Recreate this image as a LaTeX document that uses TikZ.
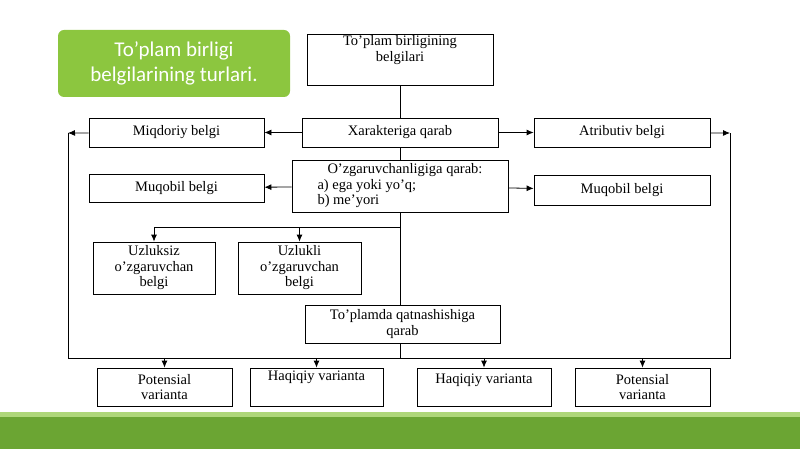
\documentclass[tikz,border=0pt]{standalone}
\usepackage{fontspec}
\setmainfont{Liberation Serif}
\newfontfamily\titlefont{Carlito}
\usetikzlibrary{arrows.meta}
\definecolor{leafgreen}{HTML}{8CC63F}
\definecolor{darkleaf}{HTML}{6BA533}
\tikzset{
  box/.style={draw, line width=.8pt, inner sep=1pt, align=center, font=\fontsize{14.5}{15.5}\selectfont},
  link/.style={line width=.8pt},
  arr/.style={line width=.8pt, -{Latex[length=7pt,width=6pt]}}
}
\begin{document}
\begin{tikzpicture}[x=1pt, y=-1pt]
	\useasboundingbox (0,0) rectangle (800,449);
	% background band and title
	\fill[darkleaf] (0,416) rectangle (800,449);
	\fill[leafgreen!70!white] (0,412) rectangle (800,417);
	\node[fill=leafgreen, rounded corners=6pt, minimum width=232pt, minimum height=67pt, text=white, align=center, font=\titlefont\fontsize{21}{25}\selectfont] (title) at (174,63.5) {To’plam birligi\\belgilarining turlari.};
	% boxes
	\node[box, minimum width=186pt, minimum height=44pt] (root) at (400,60) {To’plam birligining\\belgilari\\[8pt]};
	\node[box, minimum width=196pt, minimum height=29pt] (xar) at (400,132.5) {Xarakteriga qarab};
	\node[box, minimum width=175pt, minimum height=29pt] (miq) at (176.5,132.5) {Miqdoriy belgi};
	\node[box, minimum width=176pt, minimum height=29pt] (atr) at (622,132.5) {Atributiv belgi};
	\node[box, minimum width=216pt, minimum height=52pt, align=left] (ozg) at (400,186) {\hspace*{10pt}O’zgaruvchanligiga qarab:\\a) ega yoki yo’q;\\b) me’yori};
	\node[box, minimum width=175pt, minimum height=28pt] (muqA) at (176.5,188) {Muqobil belgi};
	\node[box, minimum width=176pt, minimum height=30pt] (muqB) at (622,190) {Muqobil belgi};
	\node[box, minimum width=122pt, minimum height=52pt] (uzs) at (154,268) {Uzluksiz\\o’zgaruvchan\\belgi};
	\node[box, minimum width=123pt, minimum height=52pt] (uzl) at (299.5,268) {Uzlukli\\o’zgaruvchan\\belgi};
	\node[box, minimum width=195pt, minimum height=38pt] (qat) at (402.5,324) {To’plamda qatnashishiga\\qarab};
	\node[box, minimum width=135pt, minimum height=38pt] (potA) at (164.5,387) {Potensial\\varianta};
	\node[box, minimum width=133pt, minimum height=38pt] (haqA) at (316.5,387) {Haqiqiy varianta\\[8pt]};
	\node[box, minimum width=134pt, minimum height=38pt] (haqB) at (484,387) {Haqiqiy varianta\\[2pt]};
	\node[box, minimum width=135pt, minimum height=38pt] (potB) at (642.5,387) {Potensial\\varianta};
	% helper points
	\coordinate (lft) at (68,133);
	\coordinate (rgt) at (730,133);
	\coordinate (lbot) at (68,358);
	\coordinate (rbot) at (730,358);
	\coordinate (split) at (400,227);
	\coordinate (mid) at (400,358);
	% connectors
	\draw[link] (root.south) -- (xar.north);
	\draw[arr] (xar) -- (miq);
	\draw[arr] (xar) -- (atr);
	\draw[arr] (miq) -- (lft);
	\draw[arr] (atr) -- (rgt);
	\draw[link] (lft) -- (lbot) -- (rbot) -- (rgt);
	\draw[link] (xar) -- (ozg);
	\draw[arr] (ozg) -- (muqA);
	\draw[arr] (ozg) -- (muqB);
	\draw[link] (ozg.south) -- (qat.north -| ozg.south);
	\draw[link] (qat.south -| ozg.south) -- (mid);
	\draw[link] (split) -- (uzs.north |- split);
	\draw[arr] (uzs.north |- split) -- (uzs.north);
	\draw[arr] (uzl.north |- split) -- (uzl.north);
	\draw[arr] (potA.north |- mid) -- (potA.north);
	\draw[arr] (haqA.north |- mid) -- (haqA.north);
	\draw[arr] (haqB.north |- mid) -- (haqB.north);
	\draw[arr] (potB.north |- mid) -- (potB.north);
\end{tikzpicture}
\end{document}
